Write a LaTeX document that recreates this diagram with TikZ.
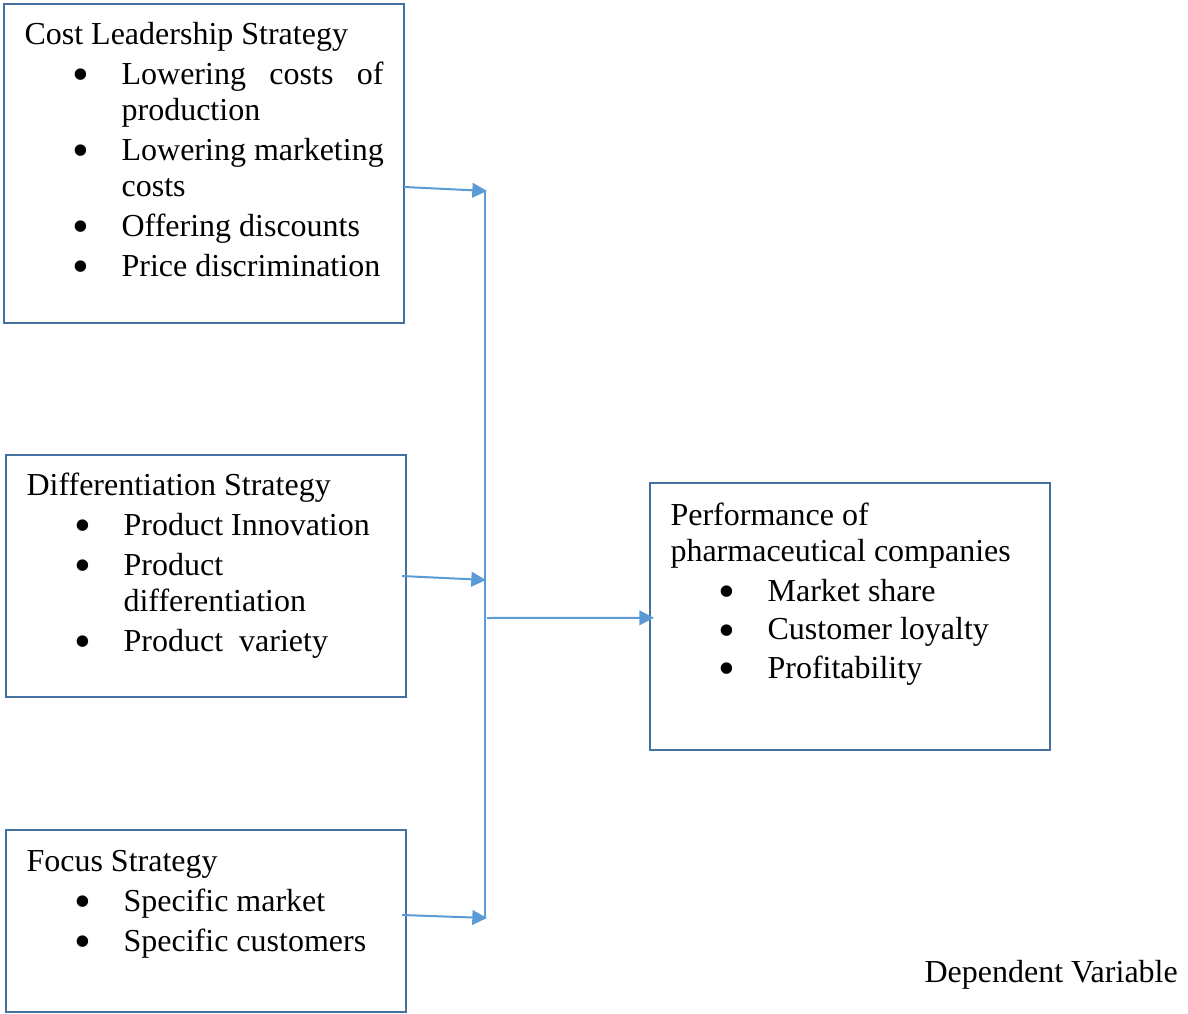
\documentclass[tikz,border=0pt]{standalone}
\usepackage{fontspec}
\setmainfont{Liberation Serif}
\usetikzlibrary{arrows.meta, positioning}
\definecolor{boxblue}{HTML}{41719C}
\definecolor{linkblue}{HTML}{5B9BD5}
\newcommand{\itm}[1]{\hspace*{17.9pt}\makebox[18.5pt][l]{\smash{\raisebox{-2.4pt}{\scalebox{1.5}{\textbullet}}}}#1}
\newcommand{\cnt}[1]{\hspace*{36.4pt}#1}

\begin{document}
\begin{tikzpicture}[x=0.375pt, y=-0.375pt,
    box/.style={draw=boxblue, line width=0.75pt, rectangle, inner sep=0pt, outer sep=0pt, minimum width=150pt, anchor=north west},
    txt/.style={anchor=base west, inner sep=0pt, font=\fontsize{12}{13.5}\selectfont},
    link/.style={draw=linkblue, line width=0.75pt, -{Triangle[length=5.5pt,width=5.5pt]}}]
    \useasboundingbox (0,0) rectangle (1188,1014);

    \node[box, minimum height=119.625pt] (cost) at (4,4) {};
    \node[box, minimum height=90.75pt] (diff) at (6,455) {};
    \node[box, minimum height=68.25pt] (focus) at (6,830) {};
    \node[box, minimum height=100.125pt] (perf) at (650,483) {};

    \node[txt] (costtxt) at (24,44) {\begin{tabular}[t]{@{}l@{}}
        Cost Leadership Strategy\\[1.5pt]
        \itm{\makebox[98.25pt][s]{Lowering costs of}}\\
        \cnt{production}\\[1.5pt]
        \itm{Lowering marketing}\\
        \cnt{costs}\\[1.5pt]
        \itm{Offering discounts}\\[1.5pt]
        \itm{Price discrimination}
    \end{tabular}};
    \node[txt] (difftxt) at (26,495) {\begin{tabular}[t]{@{}l@{}}
        Differentiation Strategy\\[1.5pt]
        \itm{Product Innovation}\\[1.5pt]
        \itm{Product}\\
        \cnt{differentiation}\\[1.5pt]
        \itm{Product\ \ variety}
    \end{tabular}};
    \node[txt] (focustxt) at (26,871) {\begin{tabular}[t]{@{}l@{}}
        Focus Strategy\\[1.5pt]
        \itm{Specific market}\\[1.5pt]
        \itm{Specific customers}
    \end{tabular}};
    \node[txt] (perftxt) at (670,525) {\begin{tabular}[t]{@{}l@{}}
        Performance of\\
        pharmaceutical companies\\[1.5pt]
        \itm{Market share}\\[1pt]
        \itm{Customer loyalty}\\[1pt]
        \itm{Profitability}
    \end{tabular}};
    \node[txt] (depvar) at (924,982) {Dependent Variable};

    \coordinate (bustop) at (485,190);
    \coordinate (busbot) at (485,918);
    \coordinate (jcost) at (487,191);
    \coordinate (jdiff) at (486,580);
    \coordinate (jfocus) at (487,918);
    \coordinate (jperf) at (487,618);

    \draw[linkblue, line width=0.5pt] (bustop) -- (busbot);
    \draw[link] ([yshift=-8.8pt]cost.east) -- (jcost);
    \draw[link] ([xshift=-1.5pt]diff.east) -- (jdiff);
    \draw[link] ([xshift=-1.5pt,yshift=2.25pt]focus.east) -- (jfocus);
    \draw[link] (jperf) -- ([xshift=1.5pt,yshift=-0.5pt]perf.west);
\end{tikzpicture}
\end{document}
